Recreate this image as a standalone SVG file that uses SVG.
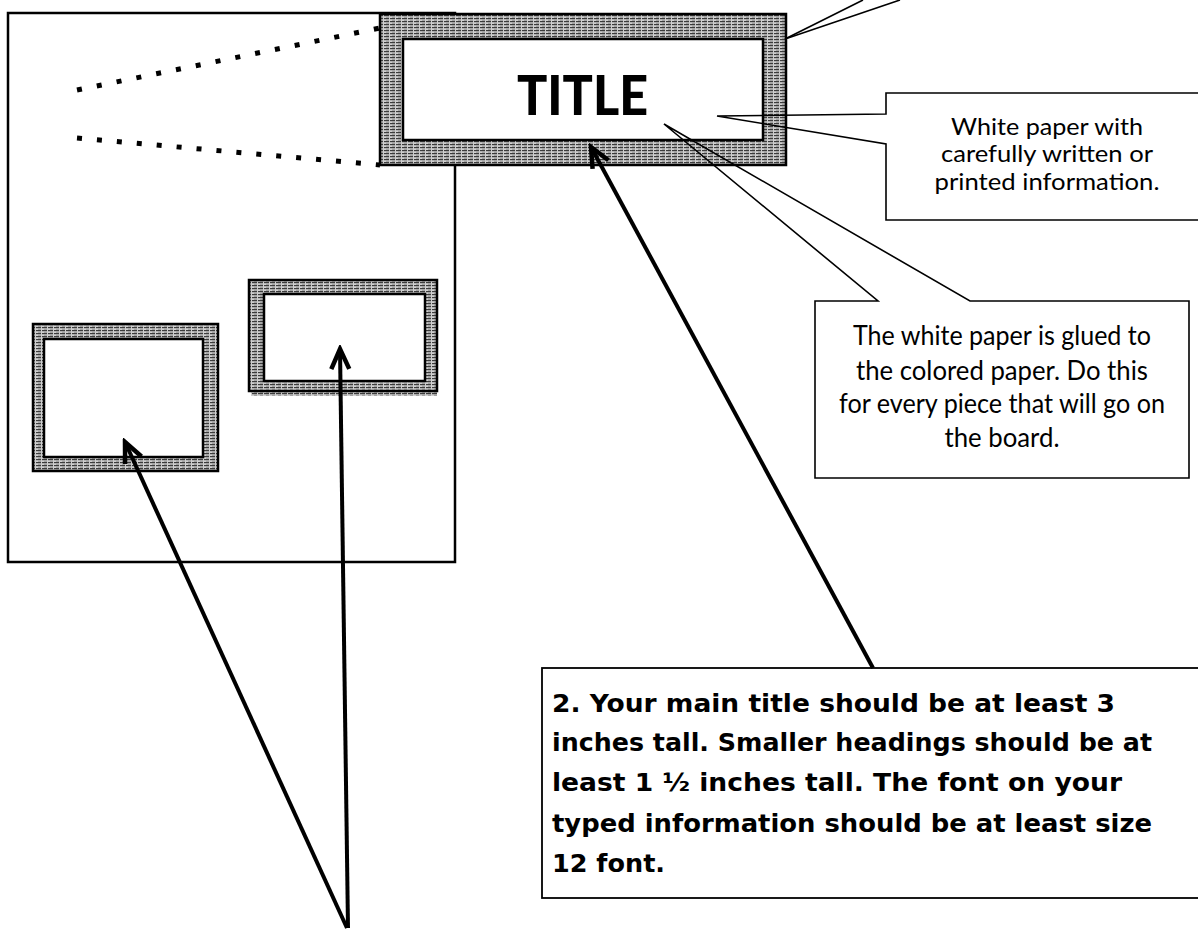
<svg xmlns="http://www.w3.org/2000/svg" width="1198" height="930" viewBox="0 0 1198 930">
  <defs>
    <!-- scanned-looking coloured paper: fine horizontal grain -->
    <pattern id="paper" width="6" height="3" patternUnits="userSpaceOnUse">
      <rect width="6" height="3" fill="#cfcfcf"/>
      <rect x="0" y="0" width="5" height="1.2" fill="#3c3c3c"/>
      <rect x="2" y="1.8" width="3" height="0.7" fill="#7a7a7a"/>
    </pattern>
    <marker id="head" markerUnits="userSpaceOnUse" viewBox="-26 -14 30 28" markerWidth="30" markerHeight="28" refX="0" refY="0" orient="auto">
      <path d="M-20,-9 L0,0 L-20,9" fill="none" stroke="#000" stroke-width="4.5" stroke-linejoin="miter"/>
    </marker>
    <style>
      .board { fill: #fff; stroke: #000; stroke-width: 2.5; }
      .frame { fill: url(#paper); stroke: #000; stroke-width: 2.5; }
      .sheet { fill: #fff; stroke: #000; stroke-width: 2.5; }
      .callout { fill: none; stroke: #000; stroke-width: 1.6; stroke-linejoin: miter; }
      .dots { fill: none; stroke: #000; stroke-width: 5; }
      .arrow { fill: none; stroke: #000; stroke-width: 4; marker-end: url(#head); }
      .note { font-family: Lato, "Open Sans", sans-serif; font-size: 27px; fill: #000; text-anchor: middle; }
      .note-sm { font-size: 24px; }
      .big { font-family: "DejaVu Sans", Verdana, sans-serif; font-weight: bold; font-size: 25.5px; fill: #000; }
      .title { font-family: Lato, "Open Sans", sans-serif; font-weight: 900; font-size: 55px; fill: #000; }
    </style>
  </defs>

  <rect width="1198" height="930" fill="#fff"/>

  <!-- display board -->
  <g id="board">
    <rect class="board" x="8" y="13" width="447" height="549"/>
  </g>

  <!-- perspective guide from the board to the enlarged title -->
  <g id="guides">
    <line class="dots" x1="77" y1="90" x2="380" y2="28" stroke-dasharray="5 15.2"/>
    <line class="dots" x1="77" y1="138" x2="380" y2="165" stroke-dasharray="5 15"/>
  </g>

  <!-- title on coloured paper -->
  <g id="title-card">
    <rect class="frame" x="380" y="14" width="406" height="151"/>
    <rect class="sheet" x="403" y="39" width="360" height="101"/>
    <text class="title" x="517" y="115" textLength="131" lengthAdjust="spacingAndGlyphs">TITLE</text>
  </g>

  <!-- smaller pieces on the board -->
  <g id="piece-left">
    <rect class="frame" x="33" y="324" width="185" height="147"/>
    <rect class="sheet" x="44" y="339" width="159" height="118"/>
  </g>
  <g id="piece-right">
    <rect x="251" y="389" width="186" height="7" fill="url(#paper)"/>
    <rect class="frame" x="249" y="280" width="188" height="111"/>
    <rect class="sheet" x="264" y="294" width="161" height="87"/>
  </g>

  <!-- callouts -->
  <g id="callout-top">
    <line class="callout" x1="785" y1="39" x2="863" y2="0"/>
    <line class="callout" x1="785" y1="39" x2="900" y2="0"/>
  </g>
  <g id="callout-white-paper">
    <path class="callout" d="M886,93 H1210 V220 H886 V144 L717,116 L886,114 Z"/>
    <text class="note note-sm" x="1047" y="135" textLength="192" lengthAdjust="spacingAndGlyphs">White paper with</text>
    <text class="note note-sm" x="1047" y="162" textLength="212" lengthAdjust="spacingAndGlyphs">carefully written or</text>
    <text class="note note-sm" x="1047" y="190" textLength="225" lengthAdjust="spacingAndGlyphs">printed information.</text>
  </g>
  <g id="callout-glue">
    <path class="callout" d="M815,301 H878 L664,124 L970,301 H1189 V478 H815 Z"/>
    <text class="note" x="1002" y="345" textLength="298" lengthAdjust="spacingAndGlyphs">The white paper is glued to</text>
    <text class="note" x="1002" y="380" textLength="292" lengthAdjust="spacingAndGlyphs">the colored paper.  Do this</text>
    <text class="note" x="1002" y="413" textLength="326" lengthAdjust="spacingAndGlyphs">for every piece that will go on</text>
    <text class="note" x="1002" y="447" textLength="115" lengthAdjust="spacingAndGlyphs">the board.</text>
  </g>

  <!-- sizing instructions -->
  <g id="instructions">
    <rect x="542" y="668" width="680" height="230" fill="#fff" stroke="#000" stroke-width="1.8"/>
    <text class="big" x="552" y="712" textLength="563" lengthAdjust="spacingAndGlyphs">2.  Your main title should be at least 3</text>
    <text class="big" x="552" y="751" textLength="600" lengthAdjust="spacingAndGlyphs">inches tall. Smaller headings should be at</text>
    <text class="big" x="552" y="791" textLength="570" lengthAdjust="spacingAndGlyphs">least 1 ½ inches tall.  The font on your</text>
    <text class="big" x="552" y="832" textLength="600" lengthAdjust="spacingAndGlyphs">typed information should be at least size</text>
    <text class="big" x="552" y="872">12 font.</text>
  </g>

  <!-- pointers -->
  <g id="connectors">
    <line class="arrow" x1="873" y1="668" x2="591" y2="147"/>
    <line class="arrow" x1="347" y1="928" x2="125" y2="442"/>
    <line class="arrow" x1="348" y1="928" x2="340" y2="349"/>
  </g>
</svg>
